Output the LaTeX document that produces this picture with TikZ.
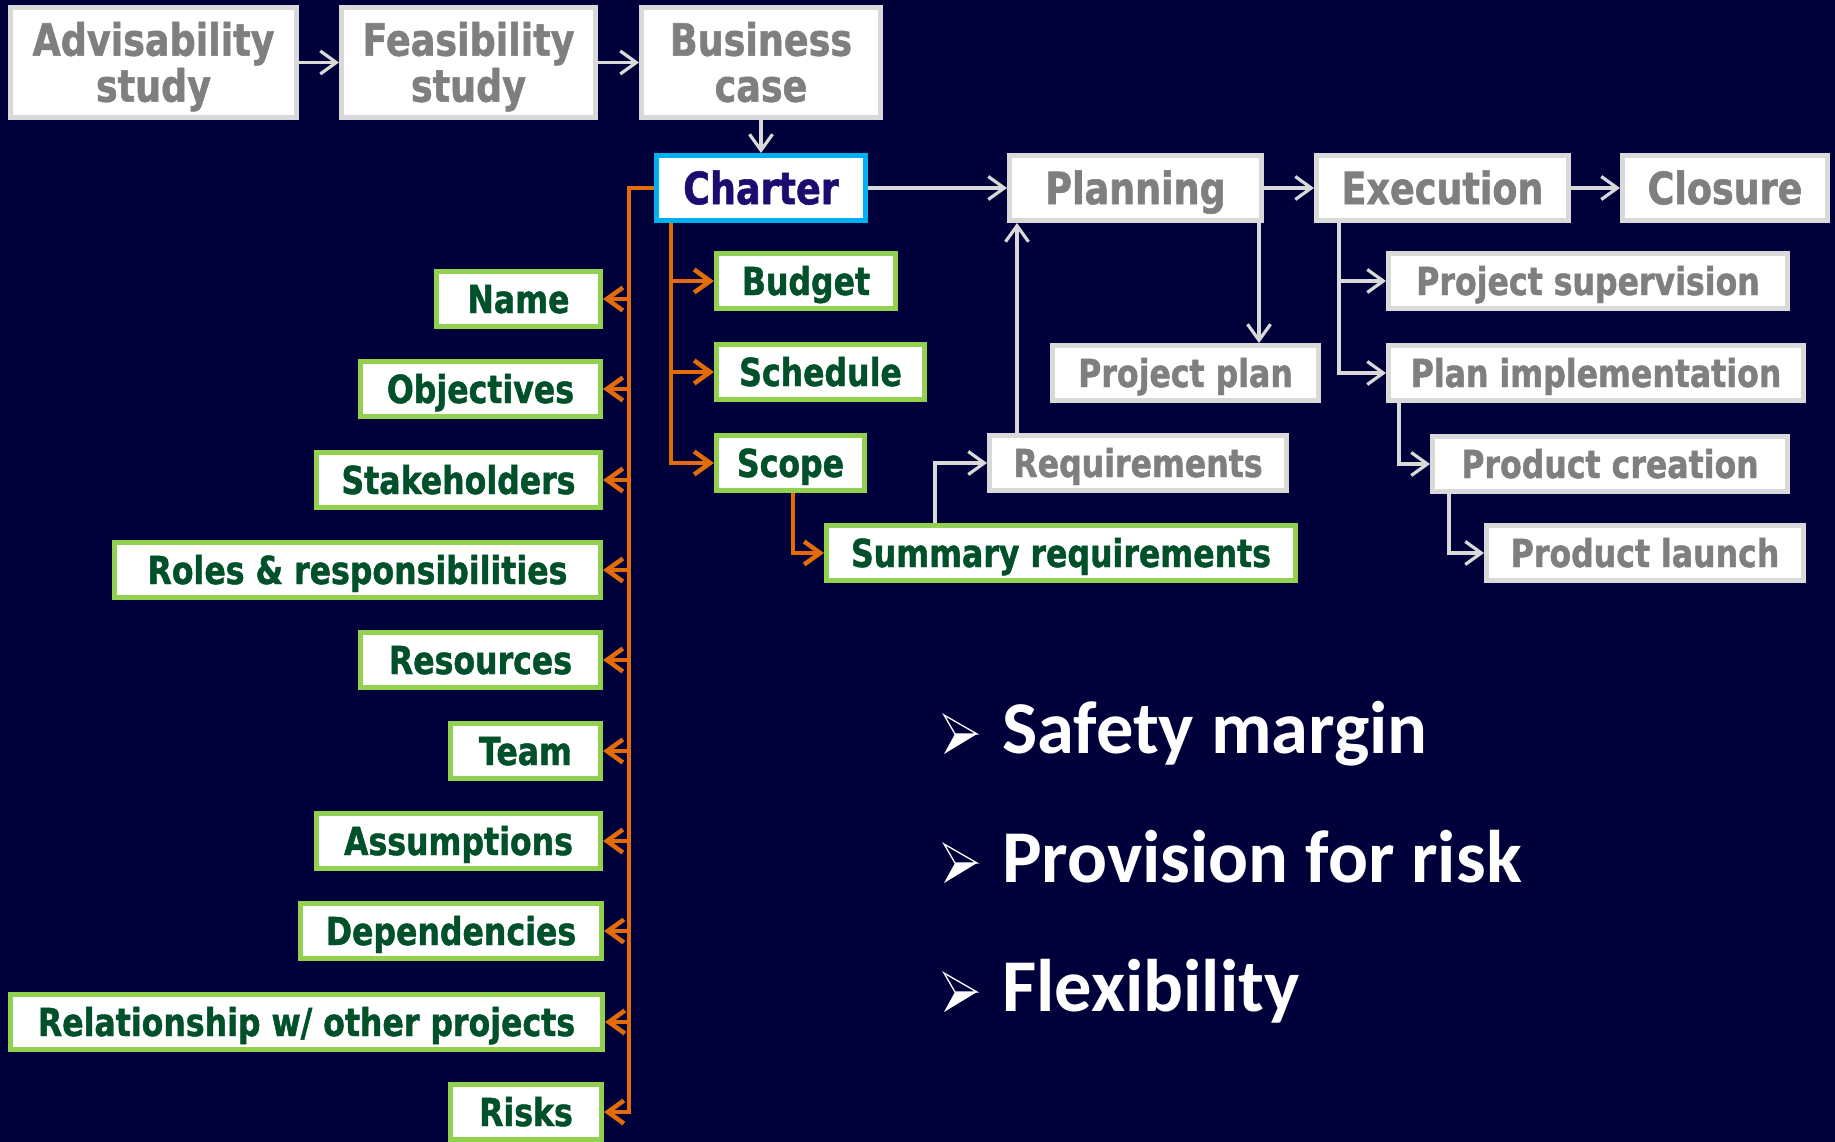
\documentclass[tikz,border=0pt]{standalone}
\usepackage{fontspec}
\usetikzlibrary{arrows.meta}
\newfontfamily\boxfont{DejaVu Sans Bold}[FakeStretch=0.82,FakeBold=1.2]
\newfontfamily\bulfont{Carlito Bold}
\definecolor{bgc}{RGB}{0,0,58}
\definecolor{graybd}{RGB}{217,217,217}
\definecolor{graytx}{RGB}{127,127,127}
\definecolor{greenbd}{RGB}{146,208,80}
\definecolor{greentx}{RGB}{0,80,42}
\definecolor{bluebd}{RGB}{0,176,240}
\definecolor{chartx}{RGB}{28,12,112}
\definecolor{orng}{RGB}{227,108,9}
\tikzset{
  boxbase/.style={draw, fill=white, line width=5pt, inner sep=0pt, text depth=0pt},
  smallf/.style={font=\boxfont\fontsize{38.5}{40}\selectfont, text height=28pt},
  bigf/.style={font=\boxfont\fontsize{44.5}{46}\selectfont, text height=32.4pt},
  graybox/.style={boxbase, smallf, draw=graybd, text=graytx, minimum height=55pt},
  greenbox/.style={boxbase, smallf, draw=greenbd, text=greentx, minimum height=55pt},
  topbox/.style={boxbase, bigf, draw=graybd, text=graytx, minimum height=65pt},
  twoline/.style={boxbase, bigf, draw=graybd, text=graytx, align=center, text height=78.4pt, text depth=0pt, minimum height=110pt},
  charterbox/.style={boxbase, bigf, draw=bluebd, text=chartx, minimum height=65pt},
  garrow/.style={draw=graybd, line width=3.2pt, -{Straight Barb[length=16pt,width=23pt]}},
  oarrow/.style={draw=orng, line width=4.5pt, -{Straight Barb[length=16pt,width=23pt]}},
  bultext/.style={anchor=base west, inner sep=0pt, text=white, font=\bulfont\fontsize{74.5}{80}\selectfont},
  bul/.pic={
    \draw[white, line width=1.3pt, line join=miter] (-33,-19) -- (0,0) -- (-22,0) -- cycle;
    \fill[white] (-22,0) -- (0,0) -- (-33,20) -- cycle;
  }
}
\begin{document}
\begin{tikzpicture}[x=1pt,y=-1pt]
\fill[bgc] (0,0) rectangle (1835,1142);
\useasboundingbox (0,0) rectangle (1835,1142);

% top row
\node[twoline, minimum width=286pt] (adv) at (153.5,62.5) {Advisability\\study};
\node[twoline, minimum width=254pt] (feas) at (468.5,62.5) {Feasibility\\study};
\node[twoline, minimum width=239pt] (bus) at (761,62.5) {Business\\case};

\node[charterbox, minimum width=209pt] (charter) at (761,188) {Charter};
\node[topbox, minimum width=252pt] (plan) at (1135.5,188) {Planning};
\node[topbox, minimum width=252pt] (exec) at (1442.5,188) {Execution};
\node[topbox, minimum width=205pt] (clos) at (1725,188) {Closure};

% charter children (right)
\node[greenbox, minimum width=179pt] (budget) at (806,281) {Budget};
\node[greenbox, minimum width=208pt] (sched) at (820.5,372) {Schedule};
\node[greenbox, minimum width=148pt] (scope) at (790.5,463) {Scope};
\node[greenbox, minimum width=469pt] (summ) at (1061,553) {Summary requirements};

% gray planning / execution boxes
\node[graybox, minimum width=297pt] (req) at (1138,463) {Requirements};
\node[graybox, minimum width=266pt] (pplan) at (1185.5,373) {Project plan};
\node[graybox, minimum width=399pt] (ps) at (1588,281) {Project supervision};
\node[graybox, minimum width=415pt] (pi) at (1596,373) {Plan implementation};
\node[graybox, minimum width=355pt] (pc) at (1610,464) {Product creation};
\node[graybox, minimum width=317pt] (pl) at (1645,553) {Product launch};

% left column
\node[greenbox, minimum width=164pt] (name) at (518.5,299) {Name};
\node[greenbox, minimum width=240pt] (obj) at (480.5,389) {Objectives};
\node[greenbox, minimum width=284pt] (stake) at (458.5,480) {Stakeholders};
\node[greenbox, minimum width=486pt] (roles) at (357.5,570) {Roles \& responsibilities};
\node[greenbox, minimum width=240pt] (res) at (480.5,660) {Resources};
\node[greenbox, minimum width=150pt] (team) at (525.5,751) {Team};
\node[greenbox, minimum width=284pt] (assum) at (458.5,841) {Assumptions};
\node[greenbox, minimum width=301pt] (dep) at (451,931) {Dependencies};
\node[greenbox, minimum width=592pt] (rel) at (306.5,1022) {Relationship w/ other projects};
\node[greenbox, minimum width=151pt] (risks) at (526,1112) {Risks};

% bus coordinates
\coordinate (obus) at (629,188);
\coordinate (obus2) at (671,223);
\coordinate (xsr) at (793,0);
\coordinate (xrq) at (935,0);
\coordinate (xrp) at (1017,0);
\coordinate (xpp) at (1259,0);
\coordinate (xex) at (1339,0);
\coordinate (xpi) at (1399,0);
\coordinate (xpc) at (1449,0);

% gray connectors
\draw[garrow] (adv.east) -- (feas.west);
\draw[garrow] (feas.east) -- (bus.west);
\draw[garrow] (bus.south) -- (charter.north);
\draw[garrow] (charter.east) -- (plan.west);
\draw[garrow] (plan.east) -- (exec.west);
\draw[garrow] (exec.east) -- (clos.west);
\draw[garrow] (summ.north -| xrq) |- (req.west);
\draw[garrow] (req.north -| xrp) -- (plan.south -| xrp);
\draw[garrow] (plan.south -| xpp) -- (pplan.north -| xpp);
\draw[garrow] (exec.south -| xex) |- (ps.west);
\draw[garrow] (exec.south -| xex) |- (pi.west);
\draw[garrow] (pi.south -| xpi) |- (pc.west);
\draw[garrow] (pc.south -| xpc) |- (pl.west);

% orange connectors
\draw[oarrow] (charter.west) -| (obus |- risks.east) -- (risks.east);
\foreach \n in {name,obj,stake,roles,res,team,assum,dep,rel}
  \draw[oarrow] (obus |- \n.east) -- (\n.east);
\draw[oarrow] (obus2) |- (scope.west);
\draw[oarrow] (obus2 |- budget.west) -- (budget.west);
\draw[oarrow] (obus2 |- sched.west) -- (sched.west);
\draw[oarrow] (scope.south -| xsr) |- (summ.west);

% bullets
\node[bultext] (b1) at (1002,753) {Safety margin};
\node[bultext] (b2) at (1002,882) {Provision for risk};
\node[bultext] (b3) at (1002,1011) {Flexibility};
\pic at (977,734) {bul};
\pic at (977,863) {bul};
\pic at (977,992) {bul};
\end{tikzpicture}
\end{document}
